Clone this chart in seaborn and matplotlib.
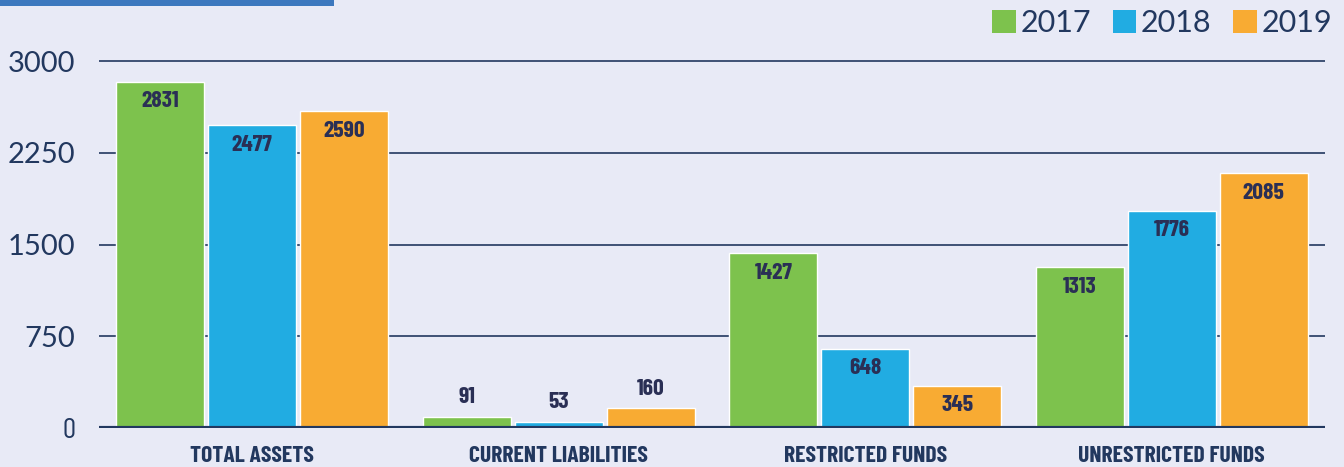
import matplotlib
matplotlib.use("Agg")
from matplotlib import pyplot as plt
from matplotlib.patches import Patch, Rectangle
import pandas as pd
import seaborn as sns

# chart values
categories = ["TOTAL ASSETS", "CURRENT LIABILITIES", "RESTRICTED FUNDS", "UNRESTRICTED FUNDS"]
years = ["2017", "2018", "2019"]
vals_2017 = [2831, 91, 1427, 1313]
vals_2018 = [2477, 53, 648, 1776]
vals_2019 = [2590, 160, 345, 2085]
yticks = [0, 750, 1500, 2250, 3000]

colors = ["#7DC24D", "#21ACE2", "#F8AB33"]
bg = "#E8EAF6"
navy = "#22385F"
label_col = "#2A2F55"
cond = ["Barlow Condensed", "Oswald", "Saira Condensed", "DejaVu Sans"]

rows = []
for yr, vals in zip(years, [vals_2017, vals_2018, vals_2019]):
    for c, v in zip(categories, vals):
        rows.append({"cat": c, "year": yr, "value": v})
df = pd.DataFrame(rows)

sns.set_style("white")
plt.rcParams["font.family"] = ["Lato", "DejaVu Sans"]

fig = plt.figure(figsize=(13.44, 4.67), dpi=100)
fig.patch.set_facecolor(bg)
ax = fig.add_axes([99 / 1344, 1 - 428 / 467, (1325 - 99) / 1344, (428 - 55) / 467])
ax.set_facecolor(bg)

sns.barplot(data=df, x="cat", y="value", hue="year", palette=colors,
            width=0.9, gap=0.04, saturation=1, ax=ax, legend=False, zorder=3)

ax.set_ylim(0, 3050)
ax.set_xlim(-0.5, 3.5)
ax.set_yticks(yticks)
for y in yticks[1:]:
    ax.axhline(y, color=navy, lw=1.2, zorder=1)
ax.axhline(0, color=navy, lw=3, zorder=4)
for s in ax.spines.values():
    s.set_visible(False)

ax.set_xlabel("")
ax.set_ylabel("")
ax.tick_params(axis="both", length=0)
ax.tick_params(axis="y", pad=17, labelsize=21, labelcolor=navy)
ax.tick_params(axis="x", pad=13, labelcolor=navy)
for t in ax.get_xticklabels():
    t.set_fontfamily(cond)
    t.set_fontweight("bold")
    t.set_fontsize(17)
ax.get_yticklabels()[0].set_fontfamily(cond)

# value labels: inside the bar when tall enough, above otherwise
for cont in ax.containers:
    for bar in cont:
        h = bar.get_height()
        xc = bar.get_x() + bar.get_width() / 2
        if h > 250:
            ax.text(xc, h - 160, f"{int(h)}", ha="center", va="center",
                    fontfamily=cond, fontweight="bold", fontsize=17,
                    color=label_col, zorder=5)
        else:
            ax.text(xc, h + 80, f"{int(h)}", ha="center", va="bottom",
                    fontfamily=cond, fontweight="bold", fontsize=17,
                    color=label_col, zorder=5)

handles = [Patch(facecolor=c, edgecolor="none", label=y) for c, y in zip(colors, years)]
fig.legend(handles=handles, loc="upper right", bbox_to_anchor=(1332 / 1344, 1 - 9 / 467),
           ncol=3, frameon=False, fontsize=22, handlelength=0.78, handleheight=0.78,
           handletextpad=0.15, columnspacing=0.7, borderpad=0, borderaxespad=0,
           labelcolor=navy)

# blue accent strip at top left
fig.patches.append(Rectangle((0, 1 - 6 / 467), 334 / 1344, 6 / 467,
                             transform=fig.transFigure, facecolor="#3C78BE",
                             edgecolor="none"))

fig.savefig("out.png", dpi=100, facecolor=bg)
